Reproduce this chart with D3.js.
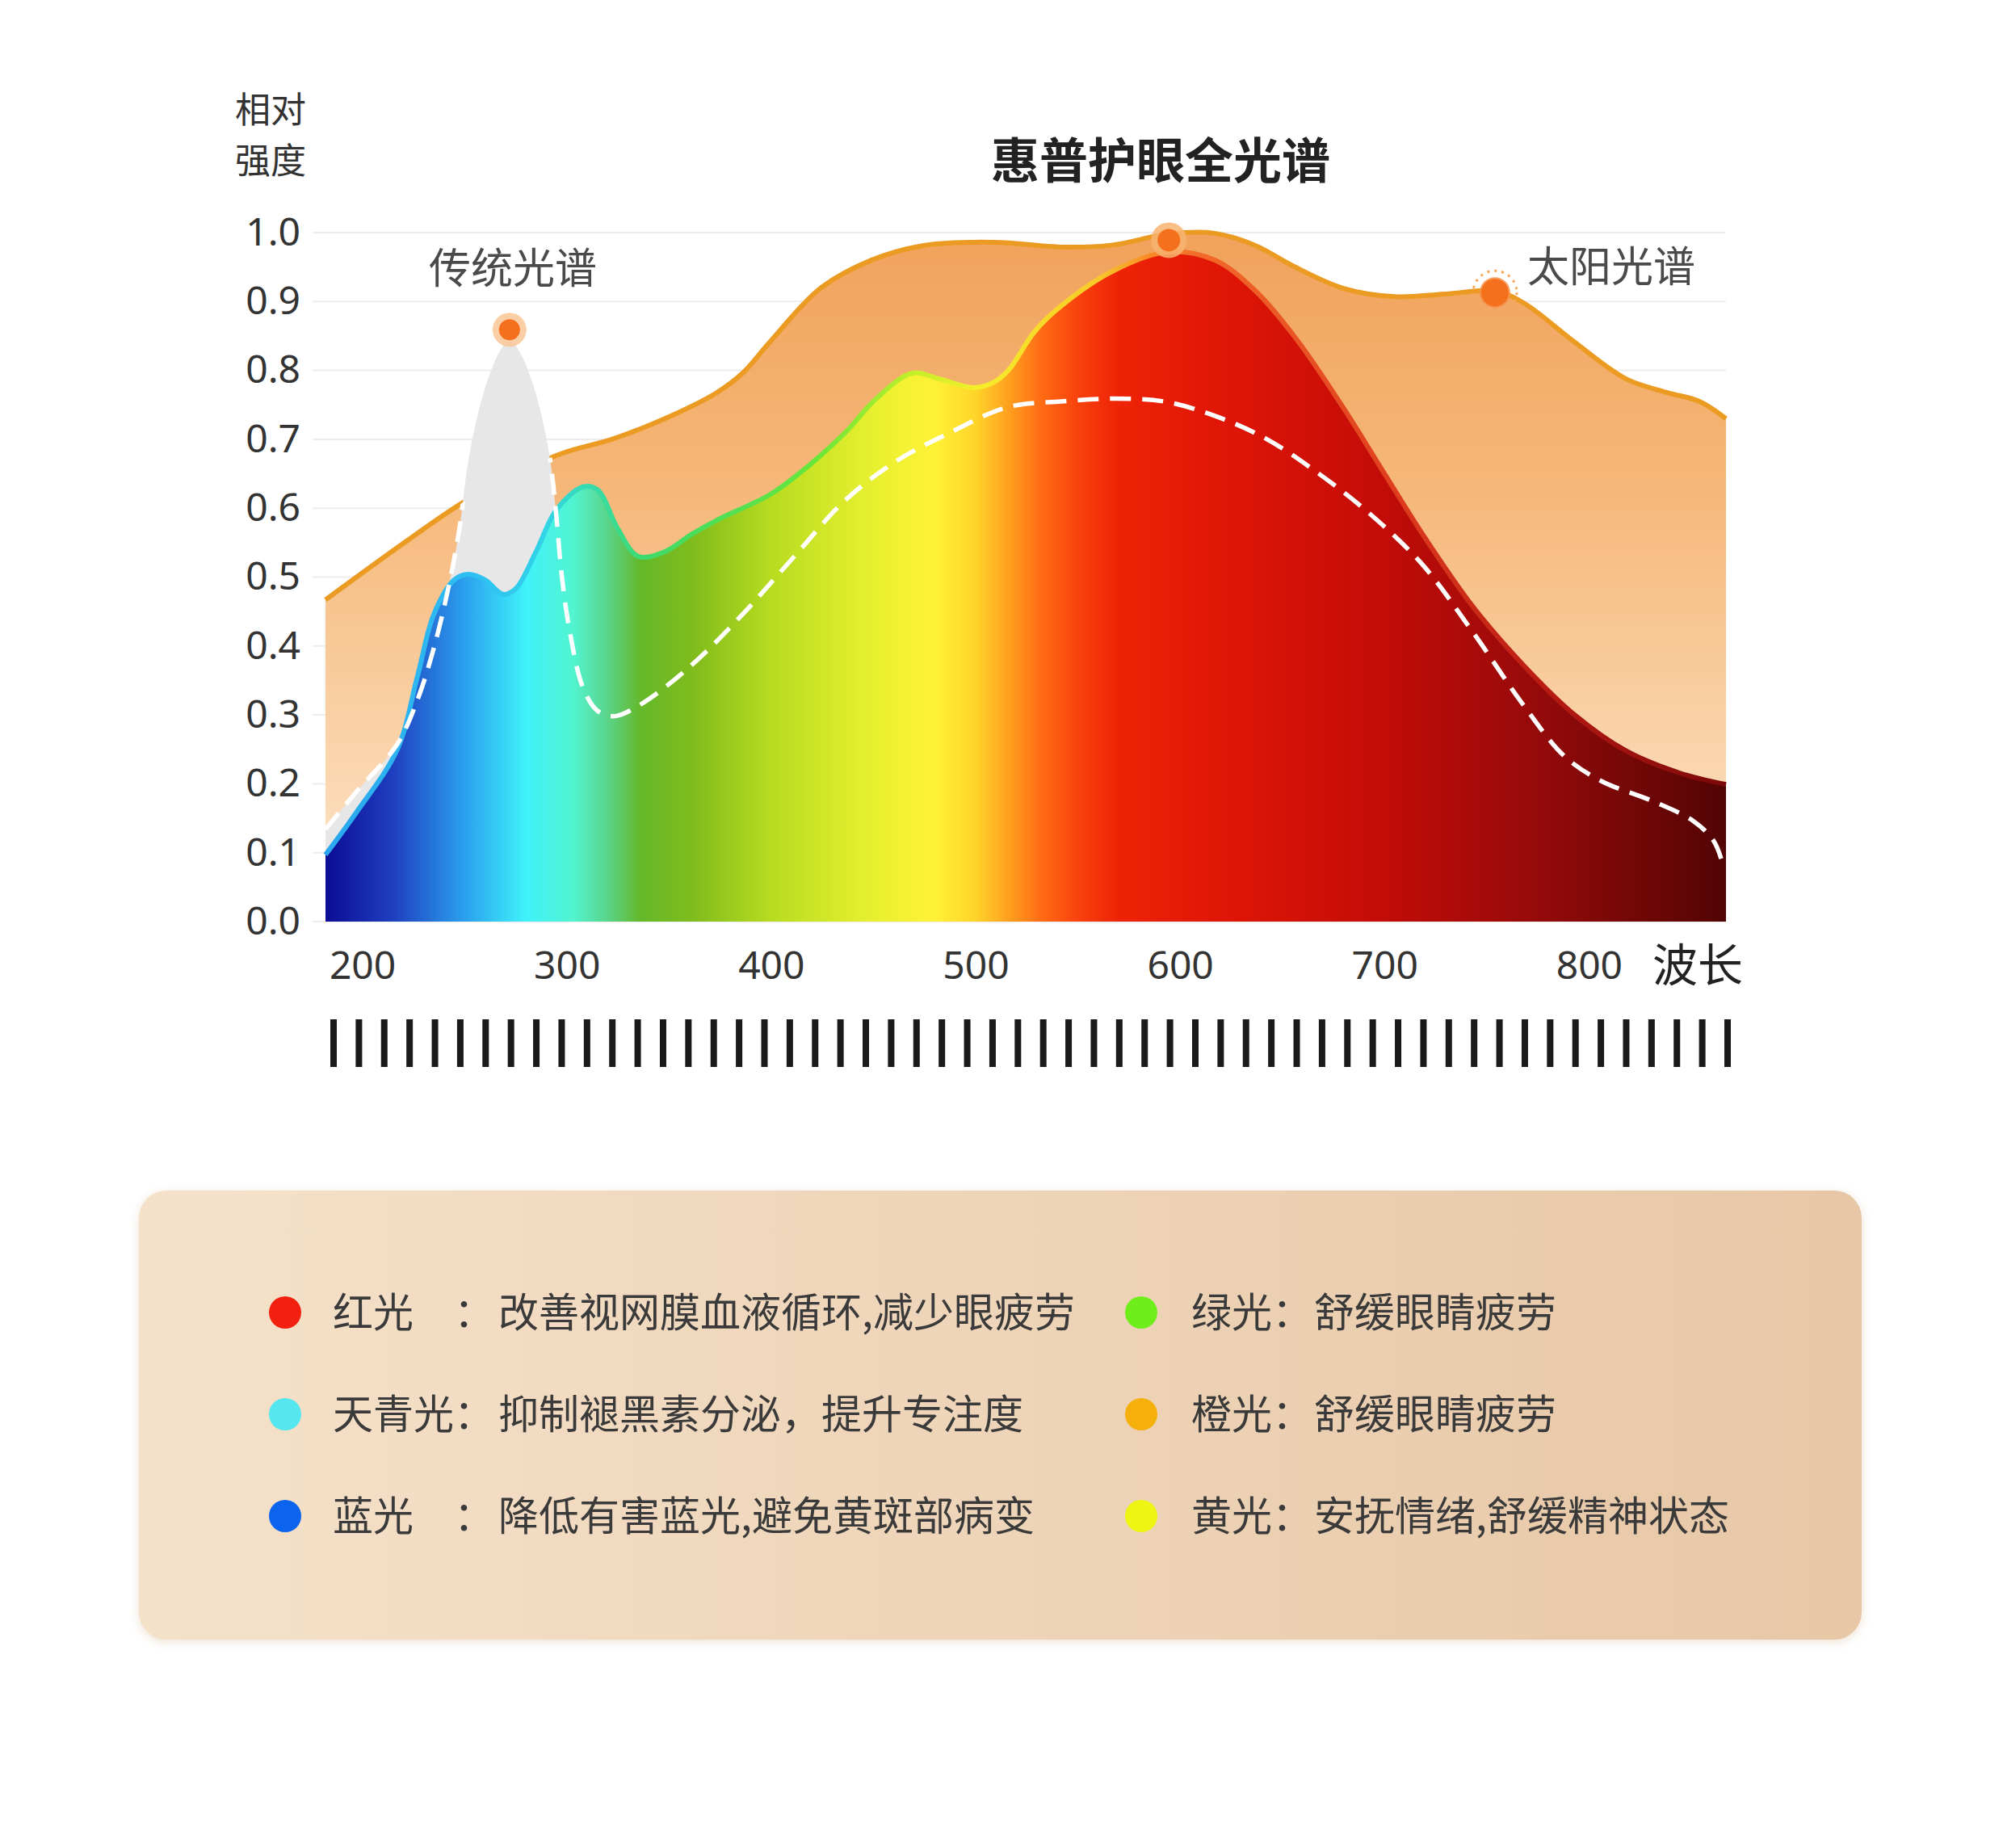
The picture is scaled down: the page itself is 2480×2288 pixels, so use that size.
<!DOCTYPE html>
<html lang="zh">
<head>
<meta charset="UTF-8">
<title>惠普护眼全光谱</title>
<script src="https://d3js.org/d3.v7.min.js"></script>
<style>
  body { margin: 0; background: #fff; }
  svg { display: block; font-family: "Noto Sans CJK SC", "Noto Sans", sans-serif; }
  .axis text { fill: #333; font-size: 48px; font-family: "Noto Sans", "Noto Sans CJK SC", sans-serif; }
  .axis .domain { display: none; }
</style>
</head>
<body>
<svg id="chart" width="2480" height="2288"></svg>
<script>
// wavelength (nm) / relative intensity
const sunWl  = [182, 222, 248, 273, 298, 323, 348, 373, 386, 399, 424, 449, 474, 499, 516, 542, 567, 594, 617, 637, 655, 680, 705, 730, 754, 768, 793, 818, 838, 854, 867];
const sunVal = [0.467, 0.553, 0.606, 0.647, 0.680, 0.701, 0.730, 0.767, 0.796, 0.840, 0.919, 0.960, 0.981, 0.986, 0.985, 0.979, 0.982, 0.998, 0.999, 0.981, 0.952, 0.919, 0.907, 0.911, 0.915, 0.898, 0.841, 0.788, 0.768, 0.755, 0.730];

const fullWl  = [182, 197, 217, 227, 235, 245, 252, 260, 269, 275, 285, 295, 308, 315, 325, 335, 348, 361, 373, 399, 411, 436, 451, 469, 482, 499, 509, 516, 529, 542, 567, 594, 617, 637, 657, 680, 700, 720, 743, 768, 793, 818, 844, 867];
const fullVal = [0.097, 0.158, 0.249, 0.356, 0.446, 0.496, 0.504, 0.496, 0.475, 0.483, 0.537, 0.598, 0.631, 0.627, 0.570, 0.530, 0.537, 0.562, 0.582, 0.619, 0.644, 0.709, 0.758, 0.796, 0.788, 0.775, 0.783, 0.800, 0.857, 0.894, 0.944, 0.972, 0.960, 0.915, 0.845, 0.745, 0.650, 0.556, 0.458, 0.372, 0.300, 0.248, 0.216, 0.199];

const tradWl  = [182, 197, 217, 227, 235, 242, 247.5, 251, 255, 261, 267.5, 272, 277.5, 284, 289, 292, 295, 297.5, 301.5, 308, 315, 323, 335.5, 361, 386, 411, 436, 461, 487, 516, 542, 567, 592, 617, 642, 667, 692, 718, 743, 768, 788, 806, 831, 851, 861, 865];
const tradVal = [0.134, 0.188, 0.257, 0.322, 0.397, 0.483, 0.570, 0.652, 0.717, 0.783, 0.829, 0.845, 0.824, 0.775, 0.717, 0.668, 0.586, 0.504, 0.421, 0.339, 0.306, 0.298, 0.314, 0.372, 0.446, 0.529, 0.611, 0.668, 0.709, 0.747, 0.755, 0.759, 0.755, 0.734, 0.701, 0.652, 0.594, 0.520, 0.421, 0.314, 0.240, 0.204, 0.175, 0.146, 0.117, 0.088];

// marked points: [wavelength, value]
const tradPeak = [272, 0.859];
const fullPeak = [594.5, 0.989];
const sunMark  = [754, 0.913];

const xTicks = [200, 300, 400, 500, 600, 700, 800];
const yTicks = [0, 0.1, 0.2, 0.3, 0.4, 0.5, 0.6, 0.7, 0.8, 0.9, 1.0];
const barCount = 56;

const legendNames  = ["红光", "天青光", "蓝光", "绿光", "橙光", "黄光"];
const legendDescs  = ["改善视网膜血液循环,减少眼疲劳", "抑制褪黑素分泌，提升专注度", "降低有害蓝光,避免黄斑部病变",
                      "舒缓眼睛疲劳", "舒缓眼睛疲劳", "安抚情绪,舒缓精神状态"];
const legendColors = ["#f2200f", "#55e6ef", "#0b63ee", "#6fee1c", "#f5b00c", "#eef512"];

// spectrum colours along the wavelength axis
const specStops = [[182, "#0c0c96"], [215, "#1f3fc0"], [250, "#2aa0ee"], [280, "#3ff2fa"], [303, "#52f4d0"],
                   [320, "#5ad48a"], [336, "#64b82a"], [362, "#80bc1c"], [400, "#b8dc20"], [450, "#e8f030"],
                   [480, "#fff236"], [500, "#ffd42a"], [516, "#ffa01e"], [532, "#ff6c14"], [550, "#f8420c"],
                   [570, "#ee2306"], [620, "#e01606"], [700, "#c20c08"], [780, "#920a0a"], [867, "#520404"]];
const lineStops = [[182, "#2aa6ee"], [260, "#2fc2f2"], [290, "#32d4e6"], [310, "#36dcb0"], [340, "#40da6a"],
                   [420, "#66e63a"], [470, "#c4ee2a"], [500, "#f6ee2a"], [560, "#f8c82a"], [585, "#f88a26"],
                   [610, "#f26a2a"], [700, "#e0401e"], [780, "#b81a12"], [867, "#7a0808"]];

const svg = d3.select("#chart");
const x = d3.scaleLinear().domain([182, 867]).range([403, 2137]);
const y = d3.scaleLinear().domain([0, 1]).range([1141, 288]);

const defs = svg.append("defs");

function hGrad(id, stops) {
  const g = defs.append("linearGradient").attr("id", id).attr("gradientUnits", "userSpaceOnUse")
    .attr("x1", x(182)).attr("x2", x(867)).attr("y1", 0).attr("y2", 0);
  g.selectAll("stop").data(stops).join("stop")
    .attr("offset", d => (d[0] - 182) / (867 - 182))
    .attr("stop-color", d => d[1]);
}
hGrad("spec", specStops);
hGrad("specLine", lineStops);

const sunGrad = defs.append("linearGradient").attr("id", "sunFill").attr("gradientUnits", "userSpaceOnUse")
  .attr("x1", 0).attr("x2", 0).attr("y1", y(1)).attr("y2", y(0));
sunGrad.append("stop").attr("offset", 0).attr("stop-color", "#f1a25c");
sunGrad.append("stop").attr("offset", 0.35).attr("stop-color", "#f5b676");
sunGrad.append("stop").attr("offset", 1).attr("stop-color", "#fde6cc");

const boxGrad = defs.append("linearGradient").attr("id", "boxFill");
boxGrad.append("stop").attr("offset", 0).attr("stop-color", "#f5e1ca");
boxGrad.append("stop").attr("offset", 1).attr("stop-color", "#e7c7a6");

const shadow = defs.append("filter").attr("id", "shadow").attr("x", "-5%").attr("y", "-10%").attr("width", "110%").attr("height", "120%");
shadow.append("feDropShadow").attr("dx", 0).attr("dy", 3).attr("stdDeviation", 6)
  .attr("flood-color", "#c89c70").attr("flood-opacity", 0.3);

const sunData  = d3.zip(sunWl, sunVal);
const fullData = d3.zip(fullWl, fullVal);
const tradData = d3.zip(tradWl, tradVal);

const curve = d3.curveCatmullRom.alpha(0.5);
const area = d3.area().x(d => x(d[0])).y0(y(0)).y1(d => y(d[1])).curve(curve);
const line = d3.line().x(d => x(d[0])).y(d => y(d[1])).curve(curve);

defs.append("clipPath").attr("id", "underSun").append("path").attr("d", area(sunData));

// gridlines
svg.append("g").selectAll("line").data(yTicks).join("line")
  .attr("x1", 387).attr("x2", x(867))
  .attr("y1", d => y(d)).attr("y2", d => y(d))
  .attr("stroke", "#ececec").attr("stroke-width", 2);

// sunlight spectrum
svg.append("path").attr("d", area(sunData)).attr("fill", "url(#sunFill)");
svg.append("path").attr("d", line(sunData)).attr("fill", "none")
  .attr("stroke", "#eb9a22").attr("stroke-width", 6);

// traditional spectrum spike (grey)
svg.append("path").attr("d", area(tradData)).attr("fill", "#e7e7e7");

// full spectrum
svg.append("path").attr("d", area(fullData)).attr("fill", "url(#spec)");
svg.append("path").attr("d", line(fullData)).attr("fill", "none")
  .attr("stroke", "url(#specLine)").attr("stroke-width", 6);

// traditional spectrum outline, only below the sunlight curve
svg.append("path").attr("d", line(tradData)).attr("fill", "none")
  .attr("clip-path", "url(#underSun)")
  .attr("stroke", "#fff").attr("stroke-width", 5.5).attr("stroke-dasharray", "26,14");

// markers
function marker(p, outerR, innerR, halo) {
  const g = svg.append("g").attr("transform", `translate(${x(p[0])},${y(p[1])})`);
  g.append("circle").attr("r", outerR).attr("fill", halo).attr("opacity", 0.85);
  g.append("circle").attr("r", innerR).attr("fill", "#f5701c");
  return g;
}
marker(tradPeak, 21, 13, "#f9c797");
marker(fullPeak, 22, 14, "#f8b471");
const sunG = marker(sunMark, 19, 17, "#f7914a");
sunG.append("circle").attr("r", 27).attr("fill", "none")
  .attr("stroke", "#f7a65a").attr("stroke-width", 3).attr("stroke-dasharray", "3,6");

// axes
svg.append("g").attr("class", "axis").attr("transform", "translate(372,0)")
  .call(d3.axisLeft(y).tickValues(yTicks).tickSize(0).tickPadding(0).tickFormat(d3.format(".1f")));
svg.append("g").attr("class", "axis").attr("transform", "translate(0,1160)")
  .call(d3.axisBottom(x).tickValues(xTicks).tickSize(0).tickPadding(18));

// texts
svg.append("text").attr("x", 291).attr("y", 152).attr("font-size", 44).attr("fill", "#333").text("相对");
svg.append("text").attr("x", 291).attr("y", 215).attr("font-size", 44).attr("fill", "#333").text("强度");
svg.append("text").attr("x", 1437).attr("y", 221).attr("text-anchor", "middle")
  .attr("font-size", 60).attr("font-weight", "bold").attr("fill", "#222").text("惠普护眼全光谱");
svg.append("text").attr("x", 531).attr("y", 351).attr("font-size", 52).attr("fill", "#4a4a4a").text("传统光谱");
svg.append("text").attr("x", 1891).attr("y", 349).attr("font-size", 52).attr("fill", "#4a4a4a").text("太阳光谱");
svg.append("text").attr("x", 2046).attr("y", 1215).attr("font-size", 56).attr("fill", "#222").text("波长");

// barcode-like scale strip
const bx = d3.scalePoint().domain(d3.range(barCount)).range([413, 2139]);
svg.append("g").selectAll("rect").data(d3.range(barCount)).join("rect")
  .attr("x", d => bx(d) - 4).attr("y", 1262).attr("width", 8).attr("height", 59)
  .attr("fill", "#1a1a1a");

// legend box
svg.append("rect").attr("x", 172).attr("y", 1474).attr("width", 2133).attr("height", 556)
  .attr("rx", 34).attr("fill", "url(#boxFill)").attr("filter", "url(#shadow)");

const rowY = d3.scalePoint().domain([0, 1, 2]).range([1625, 1877]);
const cols = [{ dot: 353, label: 412, colon: 562, desc: 617 }, { dot: 1413, label: 1475, colon: 1575, desc: 1627 }];
const items = svg.append("g").selectAll("g").data(legendNames).join("g")
  .attr("transform", (d, i) => `translate(0,${rowY(i % 3)})`);
items.append("circle").attr("cx", (d, i) => cols[Math.floor(i / 3)].dot).attr("r", 20)
  .attr("fill", (d, i) => legendColors[i]);
const tx = items.append("text").attr("font-size", 50).attr("fill", "#3a3a3a").attr("dy", "0.36em");
tx.append("tspan").attr("x", (d, i) => cols[Math.floor(i / 3)].label).text(d => d);
tx.append("tspan").attr("x", (d, i) => cols[Math.floor(i / 3)].colon).text("：");
tx.append("tspan").attr("x", (d, i) => cols[Math.floor(i / 3)].desc).text((d, i) => legendDescs[i]);
</script>
</body>
</html>
